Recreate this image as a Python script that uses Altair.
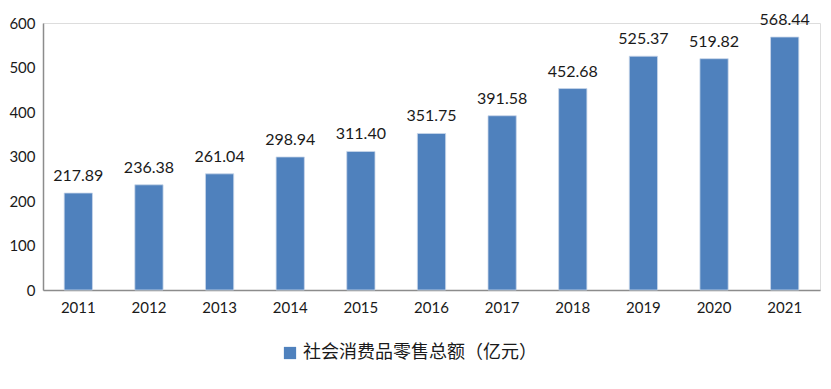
import altair as alt
import pandas as pd

years = ["2011", "2012", "2013", "2014", "2015", "2016", "2017", "2018", "2019", "2020", "2021"]
values = [217.89, 236.38, 261.04, 298.94, 311.40, 351.75, 391.58, 452.68, 525.37, 519.82, 568.44]
series_name = "社会消费品零售总额（亿元）"

df = pd.DataFrame({"year": years, "value": values, "series": [series_name] * len(years)})
df["label"] = [f"{v:.2f}" for v in values]

x = alt.X("year:N", sort=years, title=None,
          scale=alt.Scale(paddingInner=0.6, paddingOuter=0.3),
          axis=alt.Axis(labelAngle=0, labelFont="Lato", labelFontSize=15, labelColor="#1a1a1a",
                        ticks=False, domainColor="#8c8c8c", domainWidth=1.5, labelPadding=10))
y = alt.Y("value:Q", title=None,
          scale=alt.Scale(domain=[0, 600]),
          axis=alt.Axis(values=[0, 100, 200, 300, 400, 500, 600], grid=False, ticks=False,
                        labelFont="Lato", labelFontSize=15, labelColor="#1a1a1a",
                        domainColor="#8c8c8c", domainWidth=1.5, labelPadding=8))

bars = alt.Chart(df).mark_bar(stroke="#c9d7ea", strokeWidth=0.8).encode(
    x=x, y=y,
    color=alt.Color("series:N", scale=alt.Scale(range=["#4F81BD"]),
                    legend=alt.Legend(title=None, orient="none", legendX=238, legendY=321,
                                      symbolType="square", symbolSize=150, symbolStrokeWidth=0,
                                      labelFont="Noto Sans CJK SC", labelFontSize=18,
                                      labelColor="#1a1a1a", labelLimit=400, symbolOffset=0))
)

labels = alt.Chart(df).mark_text(baseline="bottom", dy=-9, font="Lato", fontSize=16,
                                 color="#1a1a1a").encode(
    x=alt.X("year:N", sort=years), y="value:Q", text="label:N"
)

chart = (bars + labels).properties(
    width=777, height=267,
    autosize=alt.AutoSizeParams(type="none"),
    padding={"left": 35, "top": 15, "right": 3, "bottom": 80},
).configure_view(stroke=None).configure(background="white")

chart.save("out.html", embed_options={"renderer": "svg", "actions": False})
